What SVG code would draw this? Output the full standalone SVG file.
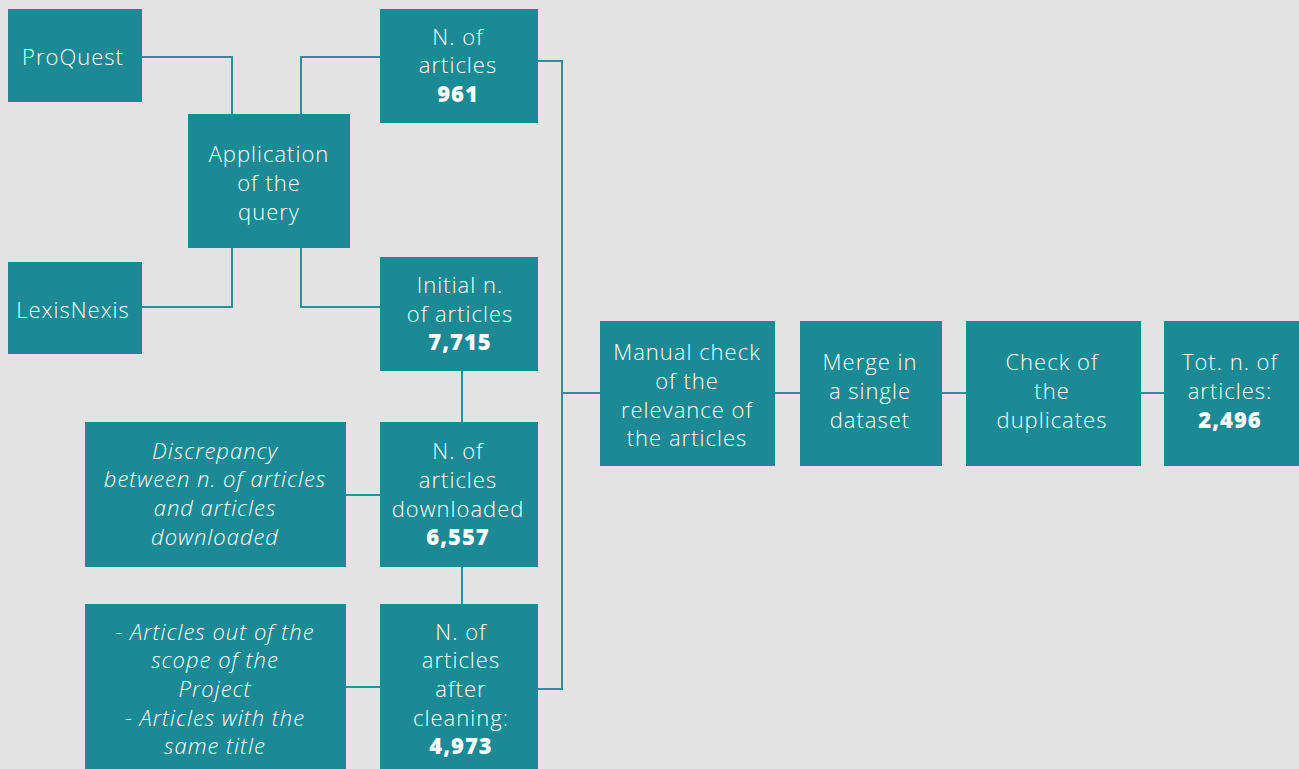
<svg xmlns="http://www.w3.org/2000/svg" width="1299" height="769" viewBox="0 0 1299 769">
<style>
.box{fill:#1c8a94}
.t{font-family:"Open Sans",Lato,"Liberation Sans",sans-serif;font-size:22px;fill:#ffffff;text-anchor:middle;font-weight:300;letter-spacing:1px}
.i{font-style:italic}
.b{font-weight:800}
.c{fill:none;stroke:#2a8f98;stroke-width:2}
</style>
<rect width="1299" height="769" fill="#e3e3e3"/>
<g id="connectors">
<path class="c" d="M142 57H232V114"/>
<path class="c" d="M301 114V57H380"/>
<path class="c" d="M142 307H232V248"/>
<path class="c" d="M301 248V307H380"/>
<path class="c" d="M538 61H562V689H538"/>
<path class="c" d="M562 393H600"/>
<path class="c" d="M462 371V422"/>
<path class="c" d="M462 567V604"/>
<path class="c" d="M346 495H380"/>
<path class="c" d="M346 687H380"/>
<path class="c" d="M775 393H800"/>
<path class="c" d="M942 393H966"/>
<path class="c" d="M1141 393H1164"/>
</g>
<g id="proquest"><rect class="box" x="8" y="9" width="134" height="93"/><text class="t" x="73" y="65">ProQuest</text></g>
<g id="lexisnexis"><rect class="box" x="8" y="262" width="134" height="92"/><text class="t" x="73" y="318">LexisNexis</text></g>
<g id="application"><rect class="box" x="188" y="114" width="162" height="134"/><text class="t" x="269" y="162">Application</text><text class="t" x="269" y="191">of the</text><text class="t" x="269" y="220">query</text></g>
<g id="n961"><rect class="box" x="380" y="9" width="158" height="114"/><text class="t" x="458" y="45">N. of</text><text class="t" x="458" y="73">articles</text><text class="t b" x="458" y="102">961</text></g>
<g id="initial"><rect class="box" x="380" y="257" width="158" height="114"/><text class="t" x="460" y="293">Initial n.</text><text class="t" x="460" y="322">of articles</text><text class="t b" x="460" y="350">7,715</text></g>
<g id="downloaded"><rect class="box" x="380" y="422" width="158" height="145"/><text class="t" x="458" y="459">N. of</text><text class="t" x="458" y="488">articles</text><text class="t" x="458" y="517">downloaded</text><text class="t b" x="458" y="545">6,557</text></g>
<g id="discrepancy"><rect class="box" x="85" y="422" width="261" height="145"/><text class="t i" x="215" y="459">Discrepancy</text><text class="t i" x="215" y="487">between n. of articles</text><text class="t i" x="215" y="516">and articles</text><text class="t i" x="215" y="545">downloaded</text></g>
<g id="cleaning"><rect class="box" x="380" y="604" width="158" height="170"/><text class="t" x="461" y="640">N. of</text><text class="t" x="461" y="668">articles</text><text class="t" x="461" y="697">after</text><text class="t" x="461" y="726">cleaning:</text><text class="t b" x="461" y="754">4,973</text></g>
<g id="excluded"><rect class="box" x="85" y="604" width="261" height="170"/><text class="t i" x="215" y="640">- Articles out of the</text><text class="t i" x="215" y="668">scope of the</text><text class="t i" x="215" y="697">Project</text><text class="t i" x="215" y="726">- Articles with the</text><text class="t i" x="215" y="754">same title</text></g>
<g id="manual"><rect class="box" x="600" y="321" width="175" height="145"/><text class="t" x="687" y="360">Manual check</text><text class="t" x="687" y="389">of the</text><text class="t" x="687" y="418">relevance of</text><text class="t" x="687" y="446">the articles</text></g>
<g id="merge"><rect class="box" x="800" y="321" width="142" height="145"/><text class="t" x="870" y="370">Merge in</text><text class="t" x="870" y="399">a single</text><text class="t" x="870" y="428">dataset</text></g>
<g id="duplicates"><rect class="box" x="966" y="321" width="175" height="145"/><text class="t" x="1052" y="370">Check of</text><text class="t" x="1052" y="399">the</text><text class="t" x="1052" y="428">duplicates</text></g>
<g id="total"><rect class="box" x="1164" y="321" width="135" height="145"/><text class="t" x="1230" y="370">Tot. n. of</text><text class="t" x="1230" y="399">articles:</text><text class="t b" x="1230" y="428">2,496</text></g>
</svg>
